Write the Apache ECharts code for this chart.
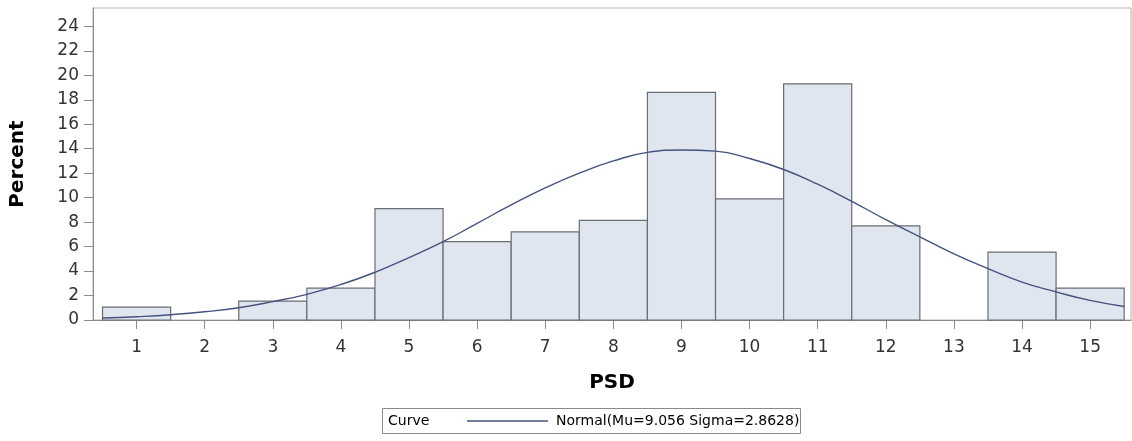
<!DOCTYPE html>
<html>
<head>
<meta charset="utf-8">
<script src="https://cdn.jsdelivr.net/npm/echarts@6/dist/echarts.min.js"></script>
<style>
  html, body { margin: 0; padding: 0; background: #fff; }
  #chart { width: 1132px; height: 441px; }
</style>
</head>
<body>
<div id="chart"></div>
<script>
// histogram bins (PSD value) and percent per bin
const bins = [1, 2, 3, 4, 5, 6, 7, 8, 9, 10, 11, 12, 13, 14, 15];
const percents = [1.05, 0, 1.55, 2.6, 9.1, 6.4, 7.2, 8.15, 18.6, 9.9, 19.3, 7.7, 0, 5.55, 2.6];

// fitted normal curve
const curveX = [0.5, 1, 1.5, 2, 2.5, 3, 3.5, 4, 4.5, 5, 5.5, 6, 6.5, 7, 7.5, 8,
                8.5, 9, 9.5, 10, 10.5, 11, 11.5, 12, 12.5, 13, 13.5, 14, 14.5, 15, 15.5];
const curveY = [0.16, 0.27, 0.43, 0.67, 1.0, 1.5, 2.1, 2.9, 3.9, 5.1, 6.4, 7.9, 9.4, 10.8, 12.0, 13.0,
                13.7, 13.9, 13.8, 13.2, 12.3, 11.1, 9.7, 8.2, 6.8, 5.4, 4.2, 3.1, 2.3, 1.6, 1.1];

const xTicks = [1, 2, 3, 4, 5, 6, 7, 8, 9, 10, 11, 12, 13, 14, 15];
const yTicks = [0, 2, 4, 6, 8, 10, 12, 14, 16, 18, 20, 22, 24];

const curveName = 'Normal(Mu=9.056 Sigma=2.8628)';
const font = 'DejaVu Sans';

const chart = echarts.init(document.getElementById('chart'));

chart.setOption({
    animation: false,
    grid: {
        left: 92, right: 1, top: 8, bottom: 121,
        show: true, borderColor: '#b4b4b4', borderWidth: 1
    },
    xAxis: {
        type: 'value',
        min: 0.36,
        max: 15.6,
        name: 'PSD',
        nameLocation: 'middle',
        nameGap: 53,
        nameTextStyle: { fontFamily: font, fontSize: 20, fontWeight: 'bold', color: '#000' },
        axisLine: { lineStyle: { color: '#8a8a8a' } },
        axisTick: { show: true, length: 9, customValues: xTicks, lineStyle: { color: '#8a8a8a' } },
        axisLabel: { customValues: xTicks, margin: 19, fontFamily: font, fontSize: 17, color: '#333' },
        splitLine: { show: false }
    },
    yAxis: {
        type: 'value',
        min: 0,
        max: 25.5,
        name: 'Percent',
        nameLocation: 'middle',
        nameRotate: 90,
        nameGap: 65,
        nameTextStyle: { fontFamily: font, fontSize: 20, fontWeight: 'bold', color: '#000' },
        axisLine: { show: true, lineStyle: { color: '#8a8a8a' } },
        axisTick: { show: true, length: 9, customValues: yTicks, lineStyle: { color: '#8a8a8a' } },
        axisLabel: { customValues: yTicks, margin: 14, fontFamily: font, fontSize: 17, color: '#333' },
        splitLine: { show: false }
    },
    legend: {
        data: [curveName],
        left: 467,
        top: 412,
        padding: 0,
        icon: 'rect',
        itemWidth: 81,
        itemHeight: 1.3,
        itemGap: 10,
        textStyle: { fontFamily: font, fontSize: 14, lineHeight: 18, color: '#000', padding: [0, 0, 0, 3] }
    },
    graphic: [
        {
            type: 'rect',
            shape: { x: 382.5, y: 408.5, width: 418, height: 25 },
            style: { fill: 'none', stroke: '#8a8a8a', lineWidth: 1 }
        },
        {
            type: 'text',
            x: 388,
            y: 421,
            style: { text: 'Curve', fontFamily: font, fontSize: 14, fill: '#000', verticalAlign: 'middle' }
        }
    ],
    series: [
        {
            type: 'custom',
            name: 'Percent',
            data: bins.map((b, i) => [b, percents[i]]),
            renderItem: (params, api) => {
                const x = api.value(0);
                const y = api.value(1);
                if (!y) return null;
                const p0 = api.coord([x - 0.5, y]);
                const p1 = api.coord([x + 0.5, 0]);
                return {
                    type: 'rect',
                    shape: { x: p0[0], y: p0[1], width: p1[0] - p0[0], height: p1[1] - p0[1] },
                    style: { fill: '#e0e6f0', stroke: '#6a6d73', lineWidth: 1.2 }
                };
            },
            z: 2
        },
        {
            type: 'line',
            name: curveName,
            data: curveX.map((x, i) => [x, curveY[i]]),
            smooth: true,
            showSymbol: false,
            lineStyle: { color: '#44527f', width: 1.4 },
            itemStyle: { color: '#44527f' },
            z: 3
        }
    ]
});
</script>
</body>
</html>
